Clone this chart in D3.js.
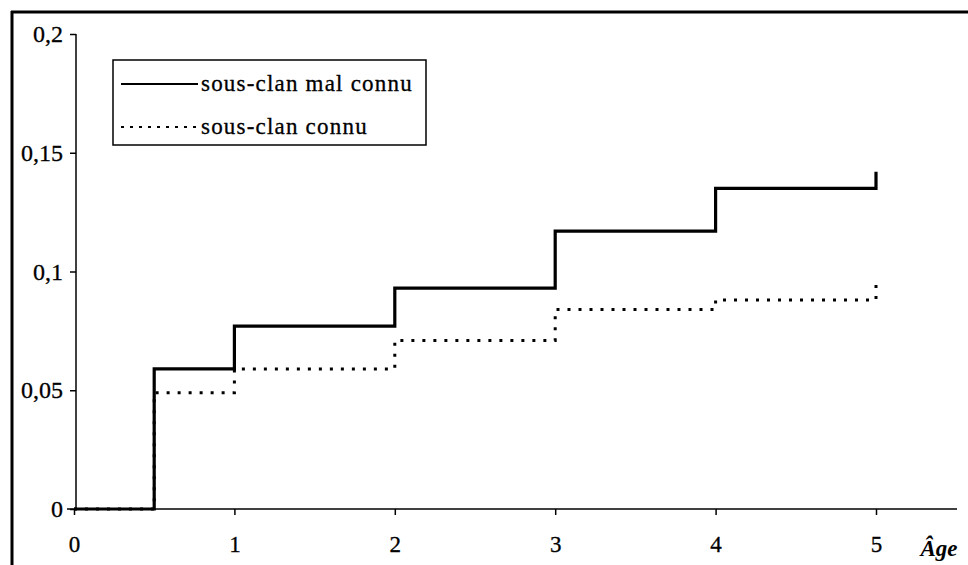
<!DOCTYPE html>
<html><head><meta charset="utf-8">
<script src="https://cdn.jsdelivr.net/npm/d3@7"></script>
<style>body{margin:0;background:#fff}svg{display:block}</style>
</head><body>
<svg id="c" width="968" height="565"></svg>
<script>
const ages = [0, 0.5, 1, 2, 3, 4, 5];
const malConnu = [0, 0.059, 0.077, 0.093, 0.117, 0.135, 0.142];
const connu = [0, 0.049, 0.059, 0.071, 0.084, 0.088, 0.095];
const xTicks = [0, 1, 2, 3, 4, 5];
const yTicks = [0, 0.05, 0.1, 0.15, 0.2];
const yTickLabels = ["0", "0,05", "0,1", "0,15", "0,2"];
const seriesNames = ["sous-clan mal connu", "sous-clan connu"];
const xTitle = "Âge";

const svg = d3.select("#c");
const font = "'Liberation Serif', Tinos, 'Nimbus Roman', 'Times New Roman', 'DejaVu Serif', serif";
const x = d3.scaleLinear().domain([0, 5]).range([74, 876]);
const y = d3.scaleLinear().domain([0, 0.2]).range([509, 34]);

// frame (top and left only)
svg.append("line").attr("x1", 11).attr("x2", 968).attr("y1", 12).attr("y2", 12).attr("stroke", "#000").attr("stroke-width", 3);
svg.append("line").attr("x1", 12).attr("x2", 12).attr("y1", 11).attr("y2", 565).attr("stroke", "#000").attr("stroke-width", 3);

// y axis
const yAxis = d3.axisLeft(y).tickValues(yTicks).tickSize(6).tickFormat((d, i) => yTickLabels[i]);
const gy = svg.append("g").attr("transform", "translate(76,0)").call(yAxis);
gy.attr("font-family", font);
gy.select(".domain").attr("d", "M0," + y(0.2) + "V" + y(0)).attr("stroke-width", 1.5);
gy.selectAll(".tick line").attr("stroke-width", 1.5);
gy.selectAll(".tick text").attr("x", -13).style("font-family", font).attr("font-size", 24)
  .attr("fill", "#000").attr("stroke", "#000").attr("stroke-width", 0.3);

// x axis
const xAxis = d3.axisBottom(x).tickValues(xTicks).tickSize(6).tickFormat(d3.format("d"));
const gx = svg.append("g").attr("transform", "translate(0,509)").call(xAxis);
gx.attr("font-family", font);
gx.select(".domain").attr("d", "M67,0H957").attr("stroke-width", 1.5);
gx.selectAll(".tick line").attr("stroke-width", 1.5);
gx.selectAll(".tick text").attr("y", 27).style("font-family", font).attr("font-size", 23)
  .attr("fill", "#000").attr("stroke", "#000").attr("stroke-width", 0.3);
svg.append("text").attr("x", 939).attr("y", 556).attr("text-anchor", "middle")
  .style("font-family", font).attr("font-size", 23).attr("font-style", "italic").attr("font-weight", "bold").text(xTitle);

// lines
const line = d3.line().x(d => x(d[0])).y(d => y(d[1])).curve(d3.curveStepAfter);
svg.append("path").datum(ages.map((a, i) => [a, connu[i]])).attr("d", line)
  .attr("fill", "none").attr("stroke", "#000").attr("stroke-width", 3).attr("stroke-dasharray", "3,8");
svg.append("path").datum(ages.map((a, i) => [a, malConnu[i]])).attr("d", line)
  .attr("fill", "none").attr("stroke", "#000").attr("stroke-width", 3.2);

// legend
const lg = svg.append("g");
lg.append("rect").attr("x", 113).attr("y", 60).attr("width", 313).attr("height", 85)
  .attr("fill", "#fff").attr("stroke", "#000").attr("stroke-width", 1.5);
const lys = [84, 127];
seriesNames.forEach((n, i) => {
  lg.append("line").attr("x1", 121).attr("x2", 198).attr("y1", lys[i]).attr("y2", lys[i])
    .attr("stroke", "#000").attr("stroke-width", 2).attr("stroke-dasharray", i === 0 ? null : "3,6");
  lg.append("text").attr("x", 201).attr("y", lys[i] + 7).style("font-family", font).attr("font-size", 23)
    .attr("letter-spacing", 1.2).attr("fill", "#000").attr("stroke", "#000").attr("stroke-width", 0.3).text(n);
});
</script>
</body></html>
